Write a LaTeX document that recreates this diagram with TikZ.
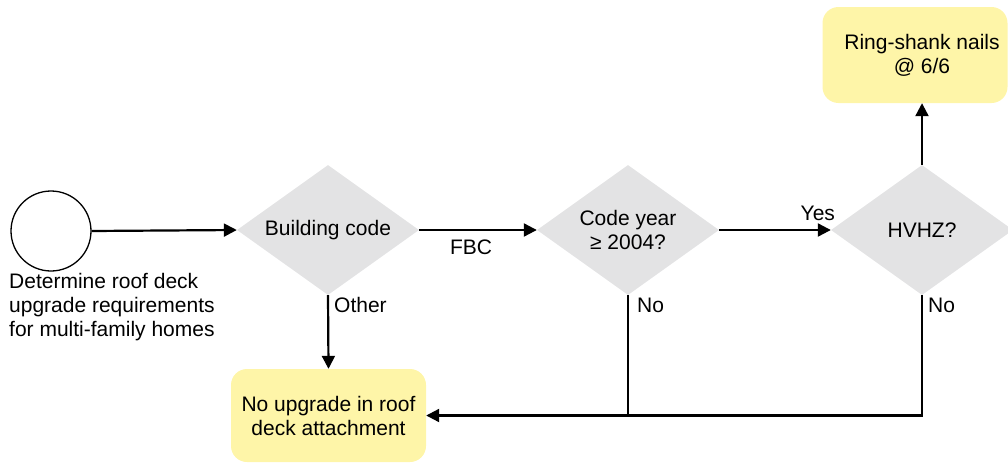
\documentclass[tikz,border=0pt]{standalone}
\usepackage{fontspec}
\setmainfont{Liberation Sans}
\usetikzlibrary{shapes.geometric,arrows.meta}
\definecolor{decgray}{HTML}{E3E3E4}
\definecolor{endyellow}{HTML}{FEF5A8}
\begin{document}
\begin{tikzpicture}[x=1pt,y=-1pt,
  every node/.style={font=\fontsize{21}{24}\selectfont, inner sep=0pt},
  decision/.style={diamond, shape aspect=1.4, fill=decgray, minimum width=182pt, minimum height=130pt, align=center},
  outcome/.style={rounded corners=16pt, fill=endyellow, align=center},
  flow/.style={line width=2.2pt, -{Triangle[length=13pt,width=13pt]}},
  joint/.style={line width=2.2pt}]
\useasboundingbox (0,0) rectangle (1008,463);

% start event and its caption
\node[circle, draw, line width=1.3pt, minimum size=80pt] (start) at (51,231) {};
\node[anchor=north west, align=left] (cap) at (9,273) {Determine roof deck\\upgrade requirements\\for multi-family homes};

% decisions
\node[decision] (code) at (328,230) {Building code};
\node[decision] (year) at (628,230) {Code year\\≥ 2004?};
\node[decision] (hvhz) at (922,230) {HVHZ?};

% outcomes
\node[outcome, minimum width=195pt, minimum height=93pt] (noup) at (328.5,415.5) {No upgrade in roof\\deck attachment};
\node[outcome, minimum width=185pt, minimum height=96pt] (ring) at (915,55) {\hspace*{14pt}Ring-shank nails\\\hspace*{14pt}@ 6/6};

% connectors
\draw[flow] (start.east) -- (code.west);
\draw[flow] (code.east) -- node[below=9pt, xshift=-7pt] (fbc) {FBC} (year.west);
\draw[flow] (year.east) -- (hvhz.west);
\node[anchor=south] (yes) at ([xshift=-13pt,yshift=9pt]hvhz.west) {Yes};
\draw[flow] (hvhz.north) -- (hvhz.north |- ring.south);
\draw[flow] (code.south) -- (noup.north);
\node[anchor=west] (other) at ([xshift=6pt,yshift=-10pt]code.south) {Other};

\coordinate (yturn) at (year.south |- noup.east);
\coordinate (hturn) at (hvhz.south |- noup.east);
\draw[flow] (year.south) -- (yturn) -- (noup.east);
\draw[joint] (hvhz.south) -- (hturn) -- (yturn);
\node[anchor=west] (no1) at ([xshift=9pt,yshift=-10pt]year.south) {No};
\node[anchor=west] (no2) at ([xshift=6pt,yshift=-10pt]hvhz.south) {No};
\end{tikzpicture}
\end{document}
